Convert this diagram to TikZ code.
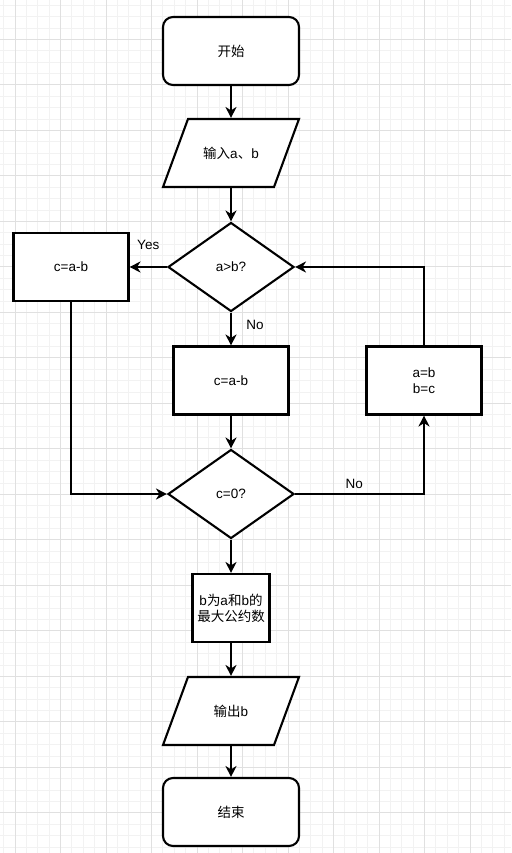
\documentclass[tikz,border=0pt]{standalone}
\usepackage{fontspec}
\setmainfont{Liberation Sans}
\newfontfamily\cjk{Noto Sans CJK SC}
\usetikzlibrary{shapes.geometric}
\usetikzlibrary{arrows.meta}

\begin{document}
\begin{tikzpicture}[x=1pt, y=-1pt,
    minorgrid/.style={color=black!5, line width=0.8pt},
    majorgrid/.style={color=black!12, line width=0.9pt},
    base/.style={draw, line width=2.1pt, align=center, inner sep=0pt, font=\fontsize{13.5}{16}\selectfont},
    terminal/.style={base, rounded corners=10pt, minimum width=136pt, minimum height=68pt},
    io/.style={base, draw=none, minimum width=110pt, minimum height=68pt},
    slanted/.style={line width=2.1pt, line join=miter, fill=white},
    decision/.style={base, diamond, minimum width=126pt, minimum height=89pt},
    process/.style={base, minimum width=115pt, minimum height=68pt},
    arr/.style={line width=2.1pt, -{Stealth[length=11pt, width=11pt, inset=3.5pt]}},
    lbl/.style={font=\fontsize{13.5}{16}\selectfont, inner sep=0pt}]
                \useasboundingbox (0,0) rectangle (511,853);
                % grid
                \begin{scope}
                \clip (0,0) rectangle (511,853);
                \foreach \i in {-2,...,45}
                    \draw[minorgrid] ({15+\i*11.375},0) -- ({15+\i*11.375},853);
                \foreach \j in {-4,...,72}
                    \draw[minorgrid] (0,{39.3+\j*11.375}) -- (511,{39.3+\j*11.375});
                \foreach \i in {-1,...,11}
                    \draw[majorgrid] ({15+\i*45.5},0) -- ({15+\i*45.5},853);
                \foreach \j in {-1,...,18}
                    \draw[majorgrid] (0,{39.3+\j*45.5}) -- (511,{39.3+\j*45.5});
                \end{scope}
                % parallelograms behind the io nodes
                \draw[slanted] (188,119) -- (299,119) -- (274,187) -- (163,187) -- cycle;
                \draw[slanted] (188,677) -- (299,677) -- (274,745) -- (163,745) -- cycle;
                % nodes
                \node[terminal, fill=white] (start) at (231,51) {{\cjk 开始}};
                \node[io] (input) at (231,153) {{\cjk 输入}a{\cjk 、}b};
                \node[decision, fill=white] (gt) at (231,267) {a>b?};
                \node[process, fill=white] (subl) at (71,267) {c=a-b};
                \node[process, fill=white] (subm) at (231,380.5) {c=a-b};
                \node[process, fill=white] (swap) at (424,380.5) {a=b\\b=c};
                \node[decision, fill=white] (zero) at (231,494) {c=0?};
                \node[process, fill=white, minimum width=77pt] (gcd) at (231,608) {b{\cjk 为}a{\cjk 和}b{\cjk 的}\\{\cjk 最大公约数}};
                \node[io] (output) at (231,711) {{\cjk 输出}b};
                \node[terminal, fill=white] (stop) at (231,812) {{\cjk 结束}};
                % connectors
                \draw[arr] (start) -- (input);
                \draw[arr] (input) -- (gt);
                \draw[arr] (gt) -- node[lbl, yshift=22pt] {Yes} (subl);
                \draw[arr] (gt) -- node[lbl, xshift=24pt, yshift=4pt] {No} (subm);
                \draw[arr] (subm) -- (zero);
                \draw[arr] (subl) |- (zero);
                \draw[arr] (zero) -| node[lbl, pos=0.23, yshift=10pt] {No} (swap);
                \draw[arr] (swap) |- (gt);
                \draw[arr] (zero) -- (gcd);
                \draw[arr] (gcd) -- (output);
                \draw[arr] (output) -- (stop);
            \end{tikzpicture}
\end{document}
